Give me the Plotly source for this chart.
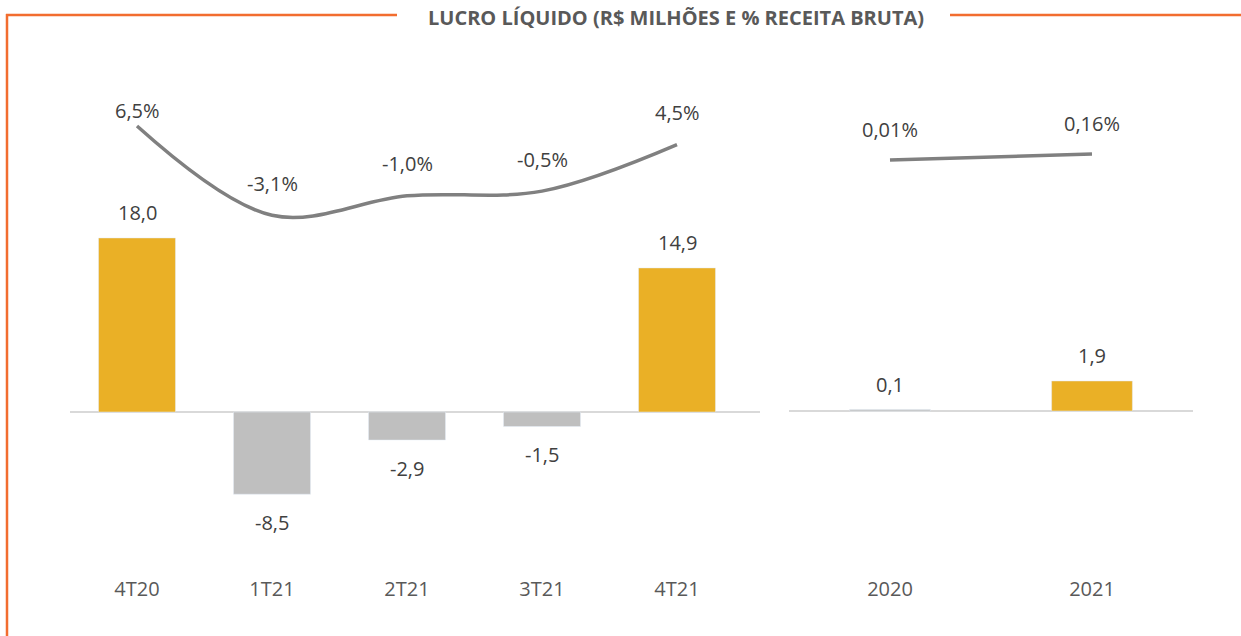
import plotly.graph_objects as go

# ---------------- data ----------------
quarters = ["4T20", "1T21", "2T21", "3T21", "4T21"]
quarter_profit = [18.0, -8.5, -2.9, -1.5, 14.9]
quarter_margin = [6.5, -3.1, -1.0, -0.5, 4.5]

years = ["2020", "2021"]
year_profit = [0.1, 1.9]
year_margin = [0.01, 0.16]

title_text = "LUCRO LÍQUIDO (R$ MILHÕES E % RECEITA BRUTA)"

# ---------------- style ----------------
W, H = 1241, 636
GOLD = "#EAB026"
GREY_BAR = "#BFBFBF"
LINE = "#808080"
ORANGE = "#F26D2F"
TXT = "#404040"
TICK = "#595959"
FONT = "Open Sans"

quarter_colors = [GOLD, GREY_BAR, GREY_BAR, GREY_BAR, GOLD]
year_colors = [GREY_BAR, GOLD]
quarter_margin_shift = [16, 32, 32, 32, 32]
year_margin_shift = [31, 31]

PT, PB = 40, 575  # plot area top / bottom in px


def yrange(zero_px, px_per_unit):
    top = (zero_px - PT) / px_per_unit
    bot = -(PB - zero_px) / px_per_unit
    return [bot, top]


def fmt(v, dec):
    return f"{v:.{dec}f}".replace(".", ",")


ydom = [1 - PB / H, 1 - PT / H]

fig = go.Figure()

fig.add_trace(go.Bar(x=quarters, y=quarter_profit, marker_color=quarter_colors,
                     width=0.57, xaxis="x", yaxis="y", hoverinfo="skip"))
fig.add_trace(go.Scatter(x=quarters, y=quarter_margin, mode="lines",
                         line=dict(color=LINE, width=3.5, shape="spline", smoothing=1.0),
                         xaxis="x", yaxis="y2", hoverinfo="skip"))
fig.add_trace(go.Bar(x=years, y=year_profit, marker_color=year_colors,
                     width=0.4, xaxis="x2", yaxis="y3", hoverinfo="skip"))
fig.add_trace(go.Scatter(x=years, y=year_margin, mode="lines",
                         line=dict(color=LINE, width=3.5),
                         xaxis="x2", yaxis="y4", hoverinfo="skip"))

ann = []
lab_font = dict(family=FONT, size=20, color=TXT)
for i, v in enumerate(quarter_profit):
    ann.append(dict(x=i, y=v, xref="x", yref="y", text=fmt(v, 1), showarrow=False,
                    yshift=25 if v >= 0 else -28, font=lab_font))
for i, (v, s) in enumerate(zip(quarter_margin, quarter_margin_shift)):
    ann.append(dict(x=i, y=v, xref="x", yref="y2", text=fmt(v, 1) + "%", showarrow=False,
                    yshift=s, font=lab_font))
for i, v in enumerate(year_profit):
    ann.append(dict(x=i, y=v, xref="x2", yref="y3", text=fmt(v, 1), showarrow=False,
                    yshift=25 if v >= 0 else -28, font=lab_font))
for i, (v, s) in enumerate(zip(year_margin, year_margin_shift)):
    ann.append(dict(x=i, y=v, xref="x2", yref="y4", text=fmt(v, 2) + "%", showarrow=False,
                    yshift=s, font=lab_font))
ann.append(dict(x=676 / W, y=1 - 18 / H, xref="paper", yref="paper", xanchor="center", yanchor="middle",
                text="<b>" + title_text + "</b>",
                showarrow=False, font=dict(family=FONT, size=20, color=TICK)))

shapes = [
    dict(type="line", xref="paper", yref="paper", x0=6 / W, x1=397 / W, y0=1 - 15 / H, y1=1 - 15 / H,
         line=dict(color=ORANGE, width=2.5)),
    dict(type="line", xref="paper", yref="paper", x0=950 / W, x1=1, y0=1 - 15 / H, y1=1 - 15 / H,
         line=dict(color=ORANGE, width=2.5)),
    dict(type="line", xref="paper", yref="paper", x0=7 / W, x1=7 / W, y0=1 - 14 / H, y1=0,
         line=dict(color=ORANGE, width=2.5)),
    dict(type="line", xref="paper", yref="y", x0=70 / W, x1=760 / W, y0=0, y1=0,
         line=dict(color="#D9D9D9", width=2), layer="below"),
    dict(type="line", xref="paper", yref="y3", x0=789 / W, x1=1193 / W, y0=0, y1=0,
         line=dict(color="#D9D9D9", width=2), layer="below"),
]

tickfont = dict(family=FONT, size=20, color=TICK)
hidden_y = dict(visible=False, showgrid=False, zeroline=False, domain=ydom, fixedrange=True)

fig.update_layout(
    width=W, height=H,
    margin=dict(l=0, r=0, t=0, b=0),
    paper_bgcolor="white", plot_bgcolor="rgba(0,0,0,0)",
    showlegend=False,
    xaxis=dict(type="category", domain=[69.5 / W, 744.5 / W], range=[-0.5, 4.5], showgrid=False,
               zeroline=False, showline=False, ticks="", tickfont=tickfont, anchor="y"),
    xaxis2=dict(type="category", domain=[789 / W, 1193 / W], range=[-0.5, 1.5], showgrid=False,
                zeroline=False, showline=False, ticks="", tickfont=tickfont, anchor="y3"),
    yaxis=dict(range=yrange(412, 9.67), **hidden_y),
    yaxis2=dict(range=yrange(186.5, 9.3), overlaying="y", **hidden_y),
    yaxis3=dict(range=yrange(411, 15.8), anchor="x2", **hidden_y),
    yaxis4=dict(range=yrange(160.4, 40), overlaying="y3", **hidden_y),
    annotations=ann,
    shapes=shapes,
)

fig.write_html("out.html", config={"displayModeBar": False},
               post_script="document.body.style.margin='0';document.body.style.overflow='hidden';")
